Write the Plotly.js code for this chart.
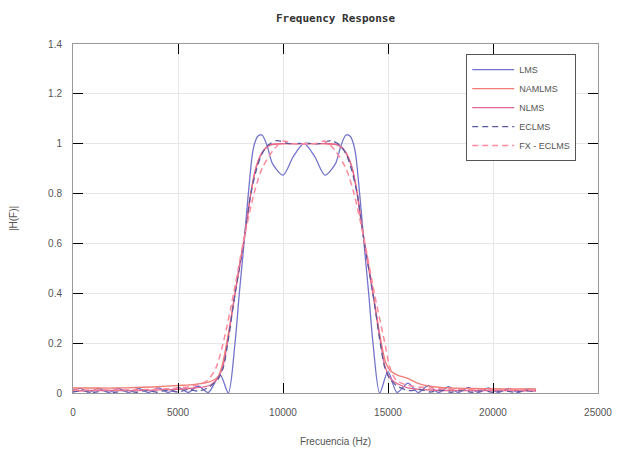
<!DOCTYPE html>
<html>
<head>
<meta charset="utf-8">
<script src="https://cdn.plot.ly/plotly-3.0.1.min.js"></script>
<style>html,body{margin:0;padding:0;background:#fff;}#chart{width:617px;height:454px;}</style>
</head>
<body>
<div id="chart"></div>
<script>
// Frequency (Hz) and |H(F)| for each filter
const lmsFreq = [0,370,740,1215,1690,2165,2640,3115,3590,4065,4540,5015,5492,5950,6444,7000,7395,7714,7920,8143,8350,8587,8800,9000,9250,9500,10000,10500,11000,11500,12000,12500,12750,13000,13200,13413,13650,13857,14080,14286,14605,15000,15430,15950,16444,16920,17400,17880,18350,18830,19300,19780,20250,20730,21200,21650,22050];
const lmsMag  = [0.012,0.018,0.002,0.018,0.002,0.018,0.002,0.018,0.002,0.02,0.002,0.022,0.002,0.028,0.002,0.074,0.0,0.2,0.4,0.6,0.8,0.98,1.03,1.035,0.99,0.92,0.874,0.95,1.0,0.95,0.874,0.92,0.99,1.035,1.03,0.98,0.8,0.6,0.4,0.2,0.0,0.086,0.002,0.04,0.002,0.03,0.002,0.025,0.002,0.022,0.002,0.02,0.002,0.018,0.002,0.016,0.01];

const namlmsFreq = [0,1000,2000,3000,4000,5000,5800,6500,6900,7100,7317,7714,7900,8111,8300,8460,8700,8905,9150,9400,10000,11000,12000,12600,12850,13095,13300,13540,13700,13889,14100,14286,14683,14900,15100,15500,15900,16400,16840,17950,19000,20000,21000,22050];
const namlmsMag  = [0.02,0.02,0.02,0.022,0.025,0.03,0.035,0.045,0.065,0.11,0.2,0.4,0.5,0.6,0.7,0.8,0.9,0.95,0.98,0.995,1.0,1.0,1.0,0.995,0.98,0.95,0.9,0.8,0.7,0.6,0.5,0.4,0.2,0.12,0.09,0.07,0.06,0.04,0.03,0.02,0.018,0.017,0.016,0.016];

const nlmsFreq = [0,1000,2000,3000,4000,5000,5800,6500,6900,7150,7350,7720,8120,8470,8700,8920,9200,9500,10000,11000,12000,12500,12800,13080,13300,13530,13880,14280,14650,14850,15100,15500,16000,17000,18000,19000,20000,21000,22050];
const nlmsMag  = [0.008,0.01,0.01,0.01,0.012,0.015,0.02,0.03,0.06,0.11,0.2,0.4,0.6,0.8,0.9,0.95,0.985,0.998,1.0,1.0,1.0,0.998,0.985,0.95,0.9,0.8,0.6,0.4,0.2,0.11,0.06,0.035,0.02,0.012,0.01,0.01,0.01,0.01,0.008];

const eclmsFreq = [0,500,1000,1500,2000,2500,3000,3500,4000,4500,5000,5500,6000,6500,6900,7150,7350,7720,8120,8470,8750,9000,9300,9700,10300,11000,11700,12300,12700,13000,13250,13530,13880,14280,14650,14850,15100,15500,16000,16500,17000,17500,18000,18500,19000,19500,20000,20500,21000,21500,22050];
const eclmsMag  = [0.004,0.01,0.003,0.01,0.003,0.01,0.003,0.01,0.003,0.012,0.004,0.014,0.008,0.025,0.055,0.1,0.19,0.4,0.6,0.8,0.9,0.96,0.995,1.012,1.0,1.002,1.0,1.012,0.995,0.96,0.9,0.8,0.6,0.4,0.19,0.1,0.055,0.025,0.01,0.014,0.004,0.012,0.003,0.01,0.003,0.01,0.003,0.01,0.003,0.01,0.004];

const fxeclmsFreq = [0,1000,2000,3000,4000,5000,5800,6400,6800,7150,7650,8100,8620,9000,9500,10000,10500,11000,11500,12000,12500,13000,13380,13900,14350,14850,15100,15400,16000,17000,18000,19000,20000,21000,22050];
const fxeclmsMag  = [0.012,0.012,0.012,0.013,0.015,0.02,0.03,0.05,0.1,0.2,0.4,0.6,0.8,0.9,0.97,1.01,1.0,1.0,1.0,1.01,0.97,0.9,0.8,0.6,0.4,0.2,0.1,0.05,0.03,0.02,0.015,0.014,0.013,0.012,0.012];

const seriesNames = ['LMS','NAMLMS','NLMS','ECLMS','FX - ECLMS'];
const xTickVals = [0,5000,10000,15000,20000,25000];
const yTickVals = [0,0.2,0.4,0.6,0.8,1,1.2,1.4];

const traces = [
  {x: lmsFreq, y: lmsMag, name: seriesNames[0], line: {color: '#7474cc', width: 1.3, dash: 'solid', shape: 'spline', smoothing: 0.8}},
  {x: namlmsFreq, y: namlmsMag, name: seriesNames[1], line: {color: '#f07c74', width: 1.3, dash: 'solid', shape: 'spline', smoothing: 0.8}},
  {x: nlmsFreq, y: nlmsMag, name: seriesNames[2], line: {color: '#e3668e', width: 1.3, dash: 'solid', shape: 'spline', smoothing: 0.8}},
  {x: eclmsFreq, y: eclmsMag, name: seriesNames[3], line: {color: '#5a5aa0', width: 1.3, dash: '6px,4px', shape: 'spline', smoothing: 0.8}},
  {x: fxeclmsFreq, y: fxeclmsMag, name: seriesNames[4], line: {color: '#ff8a9e', width: 1.5, dash: '6px,4px', shape: 'spline', smoothing: 0.8}}
].map(t => Object.assign({type: 'scatter', mode: 'lines', hoverinfo: 'skip'}, t));

const axisFont = {family: 'Liberation Sans, Arial, sans-serif', size: 10, color: '#555'};

const layout = {
  width: 617, height: 454,
  margin: {l: 73, r: 19, t: 44, b: 61},
  paper_bgcolor: '#ffffff', plot_bgcolor: '#ffffff',
  title: {text: 'Frequency Response', x: 0.5, xref: 'paper', y: 0.968, yref: 'container',
          font: {family: 'DejaVu Sans Mono, monospace', size: 11, color: '#333', weight: 'bold'}},
  xaxis: {
    range: [0, 25000], tickvals: xTickVals, ticktext: xTickVals.map(String),
    showgrid: true, gridcolor: '#e6e6e6', gridwidth: 1, zeroline: false,
    showline: true, linecolor: '#999', linewidth: 1, mirror: 'ticks',
    ticks: 'inside', ticklen: 10, tickcolor: '#000', tickwidth: 1,
    tickfont: axisFont, ticklabelstandoff: 10,
    title: {text: 'Frecuencia (Hz)', font: axisFont, standoff: 20}
  },
  yaxis: {
    range: [0, 1.4], tickvals: yTickVals, ticktext: ['0','0.2','0.4','0.6','0.8','1','1.2','1.4'],
    showgrid: true, gridcolor: '#e6e6e6', gridwidth: 1, zeroline: false,
    showline: true, linecolor: '#999', linewidth: 1, mirror: 'ticks',
    ticks: 'inside', ticklen: 10, tickcolor: '#000', tickwidth: 1,
    tickfont: axisFont, ticklabelstandoff: 8,
    title: {text: '|H(F)|', font: axisFont, standoff: 28}
  },
  showlegend: true,
  legend: {x: 0.749, xanchor: 'left', y: 0.971, yanchor: 'top',
           bgcolor: '#ffffff', bordercolor: '#555', borderwidth: 1,
           font: {family: 'Liberation Sans, Arial, sans-serif', size: 9, color: '#555'},
           tracegroupgap: 0, itemwidth: 42}
};

Plotly.newPlot('chart', traces, layout, {staticPlot: true, displayModeBar: false});
</script>
</body>
</html>
